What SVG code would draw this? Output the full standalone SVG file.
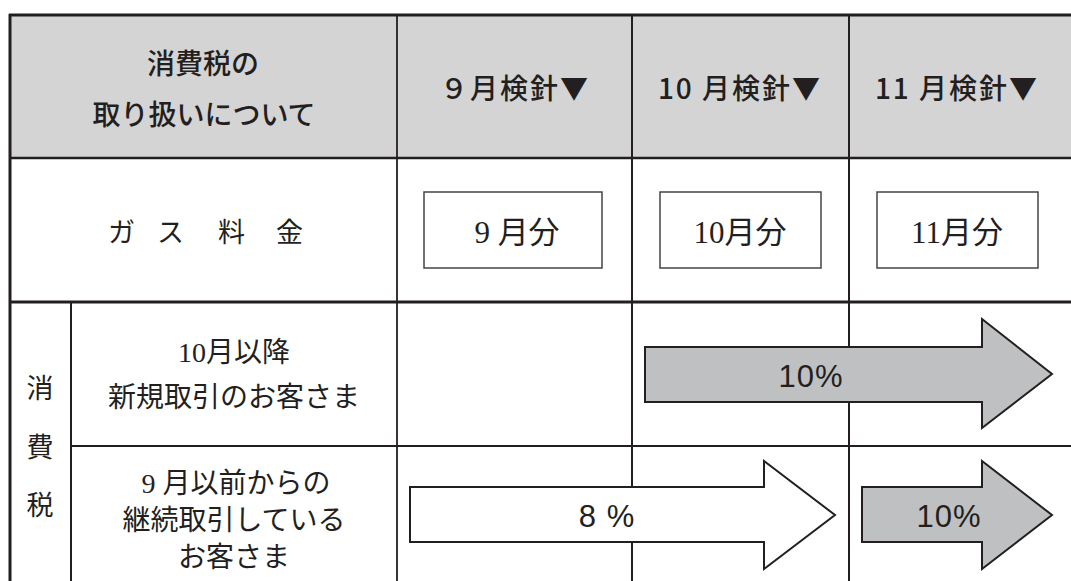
<svg xmlns="http://www.w3.org/2000/svg" width="1071" height="581" viewBox="0 0 1071 581">
<style>
.g{font-family:"Noto Sans CJK JP","Liberation Sans",sans-serif;font-weight:500;fill:#231f20;font-size:28px;text-anchor:middle}
.m{font-family:"Liberation Serif","Noto Sans CJK JP",serif;fill:#231f20}
.p{font-family:"Liberation Sans",Arial,sans-serif;font-weight:400;fill:#231f20;font-size:31px;text-anchor:middle;letter-spacing:1px}
.ln{stroke:#231f20;fill:none}
.box{fill:#fff;stroke:#444;stroke-width:1.5}
.arr{stroke:#231f20;stroke-width:2;stroke-linejoin:miter}
</style>
<rect width="1071" height="581" fill="#fff"/>
<rect x="10" y="15" width="1061" height="143" fill="#d4d4d4"/>
<g id="grid">
<line class="ln" x1="9" y1="15" x2="1071" y2="15" stroke-width="3"/>
<line class="ln" x1="10" y1="14" x2="10" y2="581" stroke-width="3"/>
<line class="ln" x1="10" y1="158" x2="1071" y2="158" stroke-width="2.5"/>
<line class="ln" x1="10" y1="302" x2="1071" y2="302" stroke-width="3"/>
<line class="ln" x1="71" y1="446" x2="1071" y2="446" stroke-width="2"/>
<line class="ln" x1="71" y1="302" x2="71" y2="581" stroke-width="2"/>
<line class="ln" x1="397" y1="15" x2="397" y2="581" stroke-width="1.8"/>
<line class="ln" x1="632" y1="15" x2="632" y2="581" stroke-width="2"/>
<line class="ln" x1="849" y1="15" x2="849" y2="581" stroke-width="2"/>
</g>
<g id="header">
<text class="g" x="203" y="74">消費税の</text>
<text class="g" x="204" y="125">取り扱いについて</text>
<text class="g" x="515" y="99" letter-spacing="2">９月検針▼</text>
<text class="g" x="740" y="99" letter-spacing="2">10 月検針▼</text>
<text class="g" x="957" y="99" letter-spacing="2">11 月検針▼</text>
</g>
<g id="gas">
<text class="m" x="108 157 218 276" y="242" font-size="27">ガス料金</text>
<g id="box9"><rect class="box" x="424" y="192" width="178" height="76"/><text class="m" x="517" y="243" font-size="31" text-anchor="middle">9 月分</text></g>
<g id="box10"><rect class="box" x="660" y="192" width="161" height="76"/><text class="m" x="740" y="243" font-size="31" text-anchor="middle">10月分</text></g>
<g id="box11"><rect class="box" x="877" y="192" width="161" height="76"/><text class="m" x="957" y="243" font-size="31" text-anchor="middle">11月分</text></g>
</g>
<g id="tax-label">
<text class="m" x="40" y="398" font-size="27" text-anchor="middle">消</text>
<text class="m" x="40" y="457" font-size="27" text-anchor="middle">費</text>
<text class="m" x="40" y="515" font-size="27" text-anchor="middle">税</text>
</g>
<g id="row-new">
<text class="m" x="234" y="362" font-size="28" text-anchor="middle">10月以降</text>
<text class="m" x="234" y="407" font-size="28" text-anchor="middle">新規取引のお客さま</text>
</g>
<g id="row-cont">
<text class="m" x="236" y="493" font-size="28" text-anchor="middle">9 月以前からの</text>
<text class="m" x="234" y="530" font-size="28" text-anchor="middle">継続取引している</text>
<text class="m" x="234" y="567" font-size="28" text-anchor="middle">お客さま</text>
</g>
<g id="arrows">
<g id="arrow-new10"><polygon class="arr" fill="#bfc0c2" points="645,347 982,347 982,319 1052,374 982,428 982,402 645,402"/><text class="p" x="811" y="387">10%</text></g>
<g id="arrow-cont8"><polygon class="arr" fill="#fff" points="410,487 764,487 764,461 835,515 764,569 764,542 410,542"/><text class="p" x="607" y="527">8 %</text></g>
<g id="arrow-cont10"><polygon class="arr" fill="#bfc0c2" points="862,487 982,487 982,461 1052,515 982,569 982,542 862,542"/><text class="p" x="949" y="527">10%</text></g>
</g>
</svg>
